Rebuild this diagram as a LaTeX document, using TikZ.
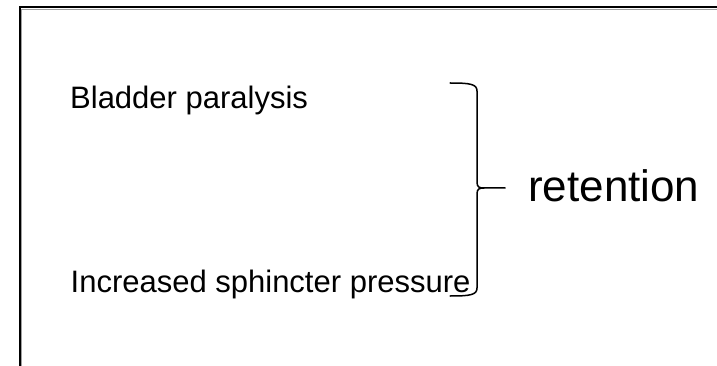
\documentclass[tikz,border=0pt]{standalone}
\usepackage{fontspec}
\setmainfont{Liberation Sans}
\usetikzlibrary{positioning}
\definecolor{ink}{RGB}{0,0,0}
\definecolor{rimgray}{RGB}{160,160,160}
\tikzset{
  cause/.style={font=\fontsize{31}{36}\selectfont,inner sep=0pt,anchor=base west,text=ink},
  result/.style={font=\fontsize{44}{52}\selectfont,inner sep=0pt,anchor=base west,text=ink},
  frame/.style={draw=ink,line width=2pt},
  curly/.style={draw=ink,line width=1.5pt,line cap=round},
}
\begin{document}
\begin{tikzpicture}[x=1pt,y=-1pt]
  \useasboundingbox (0,0) rectangle (717,366);
  % outer frame, runs off the page on the right and bottom
  \draw[draw=rimgray,line width=0.8pt] (21.8,380) -- (21.8,9.3) -- (730,9.3);
  \draw[frame] (20,380) -- (20,7.5) -- (730,7.5);
  % the two causes
  \node[cause] (paralysis) at (70,109) {Bladder paralysis};
  \node[cause] (sphincter) at (70.5,292) {Increased sphincter pressure};
  % brace and its result
  \coordinate (btop) at (450,83);
  \coordinate (bbot) at (450,296);
  \coordinate (btip) at (505,188);
  \node[result] (retention) at (528,201) {retention};
  \draw[curly] (btop) .. controls (470,83) and (477,84) .. (477,91) -- (477,182)
    .. controls (477,187) and (479,188) .. (484,188) -- (btip);
  \draw[curly] (484,188) .. controls (479,188) and (477,189) .. (477,194) -- (477,288)
    .. controls (477,295) and (470,296) .. (bbot);
\end{tikzpicture}
\end{document}
